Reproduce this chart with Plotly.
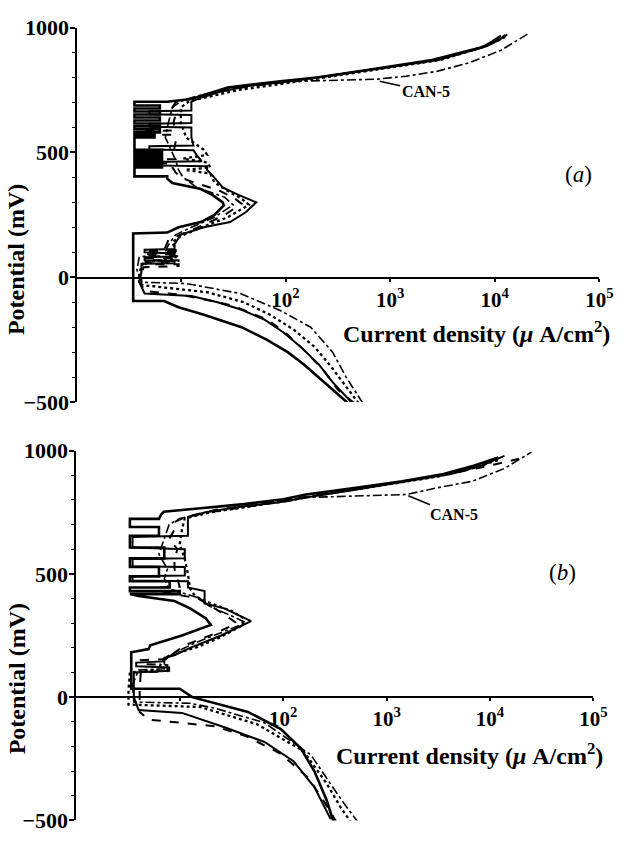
import plotly.graph_objects as go

# ---------------- data (potential in mV, current density in uA/cm2) ----------------
# panel (a)
a1_mv = [-505,-450,-400,-350,-300,-250,-200,-150,-120,-100,-95,-95,175,179,200,221,250,288,300,330,
         353,377,395,404,404,440,440,450,450,460,460,470,470,480,480,490,490,500,500,510,
         510,560,560,570,570,580,580,592,592,604,604,616,616,628,628,640,640,652,652,664,
         664,676,676,688,688,703,703,714,735,760,785,800,830,870,900,921,945,967]
a1_ua = [398,282,209,151,105,66,38,16.6,9.5,7.2,6.9,3.5,3.5,7.4,9.5,15.5,20.9,25.7,25.1,20,
         15.5,8.3,7.4,7.4,3.6,3.6,6.6,6.6,3.6,3.6,6.6,6.6,3.6,3.6,6.6,6.6,3.6,3.6,6.6,6.6,
         3.6,3.6,5.6,5.6,3.6,3.6,6.3,6.3,3.6,3.6,6.3,6.3,3.6,3.6,6.3,6.3,3.6,3.6,6.3,6.3,
         3.6,3.6,6.3,6.3,3.6,3.6,7.4,12.6,17.8,28,89,200,603,2512,4786,7586,9550,11482]

a2_mv = [-505,-420,-350,-280,-220,-170,-130,-100,-75,-65,-20,20,54,56,65,68,80,83,95,100,
         110,113,132,150,171,200,221,260,300,330,360,404,430,445,448,462,465,490,509,512,
         525,528,560,600,603,615,618,650,653,665,668,703,720,740,765,785,805,835,870,900,
         925,950,972]
a2_ua = [437,282,209,141,95,63,38,22.4,12.6,4.5,4.0,4.2,4.2,8.7,8.7,4.5,4.5,8.7,8.7,4.5,
         4.5,8.7,8.7,9.3,10,16.6,29.5,41.7,52.5,35.5,25.1,20.4,17.8,17.8,5.0,5.0,15.8,14.1,13.2,5.0,
         5.0,13.2,12.6,12.6,5.0,5.0,12.6,12.6,5.0,5.0,12.6,12.6,15.8,22.4,41.7,112,251,759,2884,5248,
         8318,10965,13183]

a3_mv = [-505,-450,-370,-300,-230,-171,-115,-95,-70,-55,-30,10,40,45,52,52,60,60,68,68,
         76,76,84,84,92,92,100,100,108,108,120,150,180,210,250,295,320,350,380,400,
         420,440,455,458,470,473,500,540,570,573,585,588,620,650,680,700,712,730,755,780,
         800,830,868,898,922,948,970]
a3_ua = [457,316,229,158,105,68,32,20,10,4.5,4.2,4.2,4.4,9.5,9.5,4.6,4.6,9.5,9.5,4.6,
         4.6,9.5,9.5,4.6,4.6,9.5,9.5,4.6,4.6,8.9,7.1,7.6,11.2,16.6,26.3,38,31.6,22.4,13.2,10,
         8.9,8.3,8.3,4.2,4.2,8.9,8.5,8.9,8.5,4.2,4.2,8.9,8.5,8.9,8.3,8.9,11.2,17.8,31.6,89,
         209,631,2630,5012,7943,10471,12589]

a4_mv = [-505,-440,-360,-280,-210,-150,-100,-60,-40,-30,20,60,75,110,140,165,200,240,290,315,
         345,380,415,430,440,460,475,490,510,560,620,680,705,725,750,775,800,830,870,905,
         935,962]
a4_ua = [501,380,275,191,120,71,40,17.8,6.3,4.0,4.0,4.4,8.9,8.9,8.3,10,15.8,28,44.7,38,
         28.2,20.9,19.1,11,19.1,17.8,10.5,17.8,16.6,11.2,10,10,12,20,35.5,95,240,692,3020,5754,
         9120,12589]

a5_mv = [-505,-400,-300,-200,-133,-65,-25,-20,30,80,100,130,170,200,240,290,320,360,400,430,
         470,520,560,620,680,705,725,750,770,785,790,793,805,824,858,909,945,978]
a5_ua = [550,380,282,174,89,37,11.2,4.2,3.8,4.0,7.1,7.6,8.9,12.6,20.9,31.6,26.3,14.1,10.5,9.5,
         8.9,7.9,7.1,7.6,8.3,10,14.1,25.1,56,132,316,741,1413,2754,5623,11482,15849,21380]

# panel (b)
b1_mv = [-510,-417,-300,-208,-130,-60,0,34,34,182,195,210,250,293,320,360,390,410,418,418,
         430,430,445,445,470,470,490,490,528,528,563,563,607,607,655,655,690,690,723,723,
         740,752,764,783,803,822,850,876,905,940,972]
b1_ua = [309,263,200,148,95,45.7,13.2,10,3.4,3.4,5.0,5.2,10.5,20,17.8,12.6,8.9,4.0,3.3,10,
         10,3.3,3.3,8,8,3.3,3.3,6.3,6.3,3.3,3.3,7.1,7.1,3.3,3.3,6.3,6.3,3.3,3.3,6.3,
         6.6,7.0,14.1,41.7,100,166,525,1413,3548,7079,12023]

b2_mv = [-495,-365,-260,-182,-123,-64,-52,0,100,107,120,125,140,145,160,170,200,250,308,330,
         360,380,430,445,470,473,490,493,528,531,560,563,600,607,650,655,690,731,750,770,
         790,812,840,876,905,940,979]
b2_ua = [288,200,126,66,27.5,10.5,4.0,3.6,3.6,7.9,7.9,3.8,3.8,7.1,7.1,8.9,12.6,25.1,49,38,
         26.9,17.4,17.4,12,12,3.5,3.5,11.2,11.2,3.5,3.5,11.2,11.2,3.5,3.5,12,12,12,17.8,35.5,
         89,178,479,1660,4169,8318,13804]

b3_mv = [-510,-440,-330,-230,-160,-118,-91,-60,26,100,105,130,135,150,155,180,210,260,300,330,
         370,400,430,445,448,480,520,560,600,640,680,710,730,760,785,810,840,870,905,935,967]
b3_ua = [331,263,178,95,44.7,21.9,5.0,4.1,4.1,4.2,7.6,7.6,4.2,4.2,8.3,8.9,11.2,22.4,35.5,28.2,
         20,15.1,6.3,6.3,10,9.5,8.9,8.9,9.5,7.9,8.9,8.9,11.2,22.4,63,151,417,1259,3981,8913,19055]

b4_mv = [-510,-450,-350,-220,-110,-40,-30,30,100,110,140,170,200,240,290,320,350,380,410,440,
         500,560,620,680,725,750,775,800,830,862,895,930,965]
b4_ua = [457,363,263,158,56,15.8,3.2,3.2,3.3,6.3,6.6,7.9,14.1,24,39.8,41.7,31.6,20,14.1,12.6,
         12,11.2,10,10.5,11.2,20,50,112,316,1000,3162,7079,12589]

b5_mv = [-510,-444,-353,-235,-104,-45,-25,-20,50,110,115,150,180,220,270,302,330,370,400,440,
         480,520,580,640,700,725,750,775,795,810,816,822,850,876,928,994]
b5_ua = [537,407,288,186,66,21.9,12.6,3.6,3.5,4.0,7.1,7.1,8.9,14.1,28.2,43.7,31.6,19.1,15.8,7.9,
         7.1,7.6,6.3,7.1,7.9,10,20,50,112,170,501,1549,3162,6761,13804,25119]

x_tick_vals = [100, 1000, 10000, 100000]
x_tick_text = ["10<sup>2</sup>", "10<sup>3</sup>", "10<sup>4</sup>", "10<sup>5</sup>"]
x_minor_vals = [10]
y_tick_vals = [-500, 0, 500, 1000]
label_can = "CAN-5"

# ---------------- figure ----------------
W, H = 629, 846
SERIF = "Liberation Serif, Times New Roman, serif"
styles = [("solid", 2.6), ("solid", 2.0), ("dash", 2.0), ("dot", 2.3), ("dashdot", 1.6)]

panels = [
    ("x", "y", [(a1_ua, a1_mv), (a2_ua, a2_mv), (a3_ua, a3_mv), (a4_ua, a4_mv), (a5_ua, a5_mv)]),
    ("x2", "y2", [(b1_ua, b1_mv), (b2_ua, b2_mv), (b3_ua, b3_mv), (b4_ua, b4_mv), (b5_ua, b5_mv)]),
]

fig = go.Figure()
for xa, ya, curves in panels:
    for (ua, mv), (dash, w) in zip(curves, styles):
        fig.add_trace(go.Scatter(x=ua, y=mv, mode="lines", xaxis=xa, yaxis=ya,
                                 line=dict(color="black", width=w, dash=dash),
                                 showlegend=False, hoverinfo="skip"))

def xaxis_cfg(dom, pos):
    return dict(type="log", range=[0, 5], domain=dom, anchor="free", position=pos,
                showline=True, linecolor="black", linewidth=1.8, showgrid=False, zeroline=False,
                ticks="outside", ticklen=3, tickwidth=1.5, tickcolor="black",
                tickvals=x_tick_vals, ticktext=x_tick_text,
                minor=dict(tickmode="array", tickvals=x_minor_vals, ticks="outside",
                           ticklen=3, tickwidth=1.5, tickcolor="black"),
                tickfont=dict(family=SERIF, size=21, color="black", weight="bold"))

def yaxis_cfg(dom, pos):
    return dict(range=[-500, 1000], domain=dom, anchor="free", position=pos,
                showline=True, linecolor="black", linewidth=1.8, showgrid=False, zeroline=False,
                ticks="outside", ticklen=5, tickwidth=1.5, tickcolor="black",
                tickvals=y_tick_vals, ticklabelstandoff=-3,
                minor=dict(tickmode="linear", tick0=0, dtick=100, ticks="outside",
                           ticklen=3, tickwidth=1.2, tickcolor="black"),
                tickfont=dict(family=SERIF, size=22, color="black", weight="bold"))

fig.update_layout(
    width=W, height=H, margin=dict(l=0, r=0, t=0, b=0),
    paper_bgcolor="white", plot_bgcolor="white", showlegend=False,
    xaxis=xaxis_cfg([78 / W, 613 / W], 1 - 274 / H),
    yaxis=yaxis_cfg([1 - 402 / H, 1 - 16 / H], 78 / W),
    xaxis2=xaxis_cfg([78 / W, 607 / W], 1 - 706 / H),
    yaxis2=yaxis_cfg([1 - 833 / H, 1 - 452 / H], 77 / W),
)

ann = []
for yc in (255, 687):
    ann.append(dict(text="Potential (mV)", x=17 / W, y=1 - yc / H, xref="paper", yref="paper",
                    textangle=-90, showarrow=False, xanchor="center", yanchor="middle",
                    font=dict(family=SERIF, size=24, color="black", weight="bold")))
for xr, yc in ((626, 330), (619, 765)):
    ann.append(dict(text="Current density (<i>\u03bc</i> A/cm<sup>2</sup>)", x=xr / W, y=1 - yc / H,
                    xref="paper", yref="paper", showarrow=False, xanchor="right", yanchor="middle",
                    font=dict(family=SERIF, size=24, color="black", weight="bold")))
ann.append(dict(text="(<i>a</i>)", x=608 / W, y=1 - 153 / H, xref="paper", yref="paper",
                showarrow=False, font=dict(family=SERIF, size=23, color="black")))
ann.append(dict(text="(<i>b</i>)", x=591 / W, y=1 - 593 / H, xref="paper", yref="paper",
                showarrow=False, font=dict(family=SERIF, size=23, color="black")))
ann.append(dict(text=label_can, x=2.90, y=785, xref="x", yref="y", showarrow=True,
                arrowhead=0, arrowwidth=1.5, arrowcolor="black", ax=46, ay=10, standoff=0,
                font=dict(family=SERIF, size=16, color="black", weight="bold")))
ann.append(dict(text=label_can, x=3.21, y=817, xref="x2", yref="y2", showarrow=True,
                arrowhead=0, arrowwidth=1.5, arrowcolor="black", ax=46, ay=19, standoff=0,
                font=dict(family=SERIF, size=16, color="black", weight="bold")))
fig.update_layout(annotations=ann)

fig.write_html("out.html")
